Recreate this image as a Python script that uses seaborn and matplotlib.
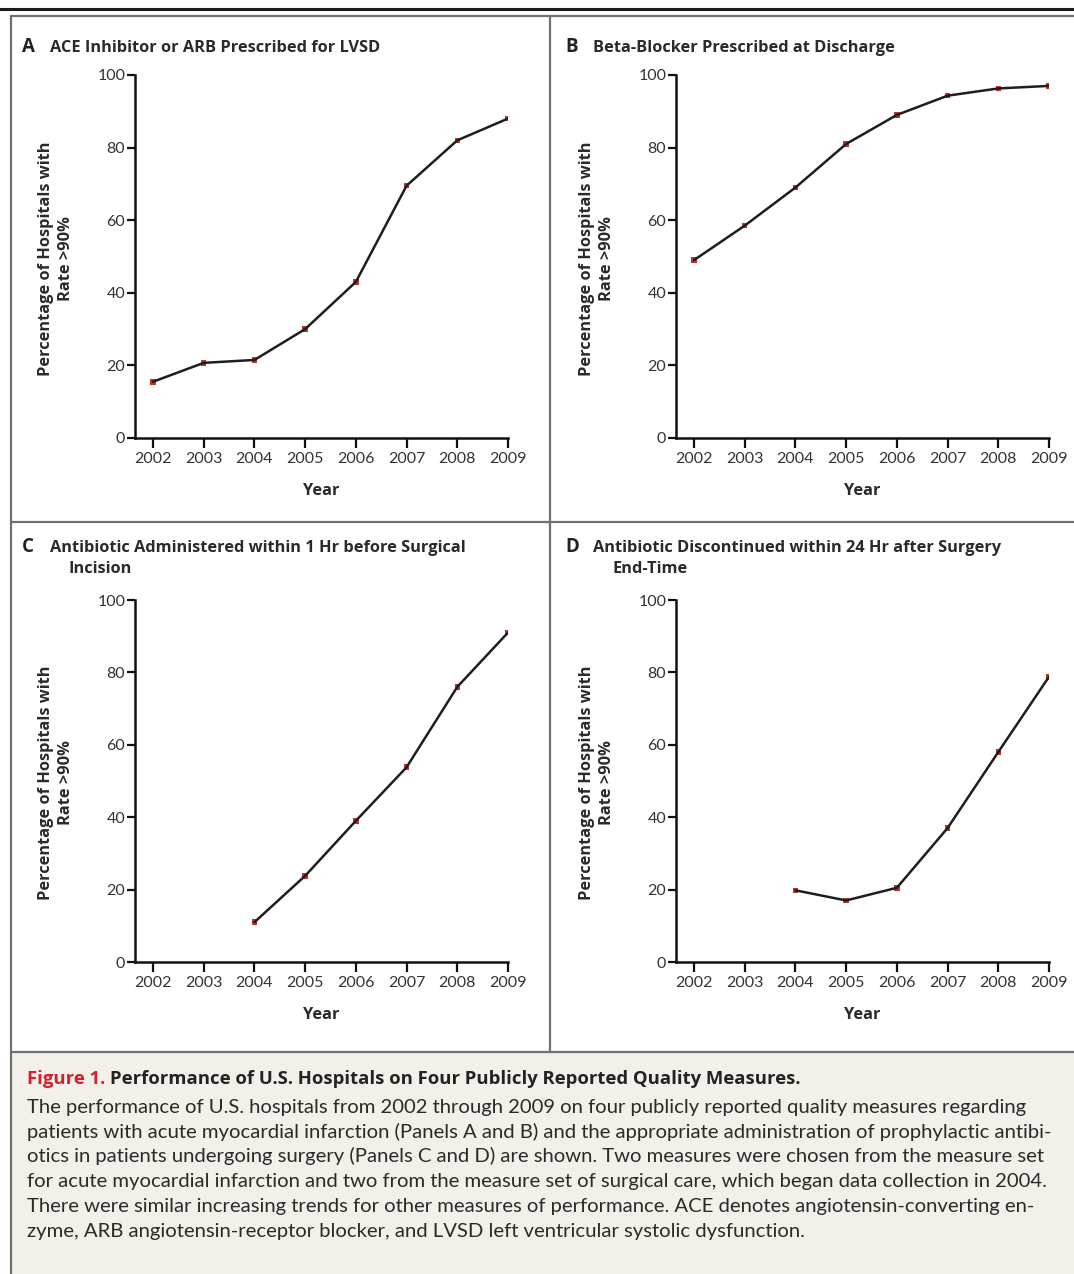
import numpy as np
import pandas as pd
import matplotlib.pyplot as plt
from matplotlib.lines import Line2D
from matplotlib.patches import Rectangle
import seaborn as sns

years = [2002, 2003, 2004, 2005, 2006, 2007, 2008, 2009]
ace_arb = [15.5, 20.7, 21.5, 30.0, 43.0, 69.5, 82.0, 88.0]
beta_blocker = [49.0, 58.5, 69.0, 81.0, 89.0, 94.3, 96.3, 97.0]
abx_1hr = [np.nan, np.nan, 11.0, 23.8, 39.0, 53.8, 76.0, 91.0]
abx_24hr = [np.nan, np.nan, 19.8, 17.0, 20.5, 37.0, 58.0, 78.8]

panel_letters = ["A", "B", "C", "D"]
panel_titles = [
    ["ACE Inhibitor or ARB Prescribed for LVSD"],
    ["Beta-Blocker Prescribed at Discharge"],
    ["Antibiotic Administered within 1 Hr before Surgical", "Incision"],
    ["Antibiotic Discontinued within 24 Hr after Surgery", "End-Time"],
]
y_ticks = [0, 20, 40, 60, 80, 100]
ylabel = "Percentage of Hospitals with\nRate >90%"
xlabel = "Year"

caption_head = "Figure 1."
caption_title = "Performance of U.S. Hospitals on Four Publicly Reported Quality Measures."
caption_lines = [
    "The performance of U.S. hospitals from 2002 through 2009 on four publicly reported quality measures regarding",
    "patients with acute myocardial infarction (Panels A and B) and the appropriate administration of prophylactic antibi-",
    "otics in patients undergoing surgery (Panels C and D) are shown. Two measures were chosen from the measure set",
    "for acute myocardial infarction and two from the measure set of surgical care, which began data collection in 2004.",
    "There were similar increasing trends for other measures of performance. ACE denotes angiotensin-converting en-",
    "zyme, ARB angiotensin-receptor blocker, and LVSD left ventricular systolic dysfunction.",
]

sns.set_theme(style="ticks")
plt.rcParams['font.family'] = ['Lato', 'DejaVu Sans']
bold_font = ['Open Sans', 'DejaVu Sans']

W, H = 1074, 1274
fig = plt.figure(figsize=(W / 100, H / 100), dpi=100)
fig.patch.set_facecolor("white")

def fx(x):
    return x / W

def fy(y):
    return 1 - y / H

frame_col = "#707070"
# caption background
fig.add_artist(Rectangle((fx(11), fy(1274)), fx(1074) - fx(11), fy(1052) - fy(1274),
                         facecolor="#f3f0ea", edgecolor="none", zorder=0))
# frame lines
fig.add_artist(Line2D([0, 1], [fy(9), fy(9)], color="#1a1a1a", lw=2.2))
fig.add_artist(Line2D([fx(11), 1], [fy(16), fy(16)], color=frame_col, lw=1.6))
fig.add_artist(Line2D([fx(11), fx(11)], [fy(16), 0], color=frame_col, lw=1.6))
fig.add_artist(Line2D([fx(550), fx(550)], [fy(16), fy(1052)], color=frame_col, lw=1.6))
fig.add_artist(Line2D([fx(11), 1], [fy(522), fy(522)], color=frame_col, lw=1.6))
fig.add_artist(Line2D([fx(11), 1], [fy(1052), fy(1052)], color=frame_col, lw=1.6))

series = [ace_arb, beta_blocker, abx_1hr, abx_24hr]
# (x of y axis, x of 2009, y of 100, y of 0, letter x, title baseline y)
boxes = [(135, 508, 75, 438, 22, 52),
         (676, 1049, 75, 438, 565, 52),
         (135, 508, 600, 962, 22, 552),
         (676, 1049, 600, 962, 565, 552)]

for vals, letter, title, (x0, x1, ytop, ybot, tx, ty) in zip(series, panel_letters, panel_titles, boxes):
    ax = fig.add_axes([fx(x0), fy(ybot), fx(x1) - fx(x0), fy(ytop) - fy(ybot)])
    ax.set_facecolor("none")
    df = pd.DataFrame({"year": years, "pct": vals}).dropna()
    sns.scatterplot(data=df, x="year", y="pct", marker="s", s=16, color="#b8352a",
                    edgecolor="none", ax=ax, zorder=2)
    sns.lineplot(data=df, x="year", y="pct", color="#1e1e1e", lw=1.8, ax=ax, zorder=3)
    ax.set_xlim(2002 - 18 / ((x1 - x0 - 18) / 7), 2009)
    ax.set_ylim(0, 100)
    ax.set_xticks(years)
    ax.set_yticks(y_ticks)
    ax.set_xlabel("")
    ax.set_ylabel("")
    for s in ["top", "right"]:
        ax.spines[s].set_visible(False)
    for s in ["left", "bottom"]:
        ax.spines[s].set_color("#111111")
        ax.spines[s].set_linewidth(1.8)
    ax.tick_params(axis="both", colors="#111111", width=1.6, length=7,
                   labelsize=11.5, labelcolor="#333333", pad=3)
    ax.tick_params(axis="y", length=6, pad=1)

    fig.text(fx(tx), fy(ty), letter, fontsize=13.5, fontweight="bold", color="#222222",
             va="baseline", family=bold_font)
    fig.text(fx(tx + 28), fy(ty), title[0], fontsize=11.8, fontweight="bold", color="#2a2a2a",
             va="baseline", family=bold_font)
    if len(title) > 1:
        fig.text(fx(tx + 47), fy(ty + 21), title[1], fontsize=11.8, fontweight="bold",
                 color="#2a2a2a", va="baseline", family=bold_font)
    fig.text(fx(x0 - 79), fy((ytop + ybot) / 2 + 2), ylabel, rotation=90, fontsize=11.8,
             fontweight="bold", color="#2a2a2a", ha="center", va="center", linespacing=1.35,
             multialignment="center", family=bold_font)
    fig.text(fx((x0 + x1) / 2), fy(ybot + 53), xlabel, fontsize=11.8, fontweight="bold",
             color="#2a2a2a", ha="center", va="center", family=bold_font)

# caption
t1 = fig.text(fx(27), fy(1084), caption_head, fontsize=13.3, fontweight="bold",
              color="#d2202f", va="baseline", family=bold_font)
fig.canvas.draw()
bb = t1.get_window_extent(renderer=fig.canvas.get_renderer())
fig.text(bb.x1 / W + fx(5), fy(1084), caption_title, fontsize=13.3, fontweight="bold",
         color="#222222", va="baseline", family=bold_font)
for i, line in enumerate(caption_lines):
    fig.text(fx(27), fy(1113 + 24.7 * i), line, fontsize=14.6, color="#2a2a2a", va="baseline")

plt.savefig("out.png", dpi=100)
